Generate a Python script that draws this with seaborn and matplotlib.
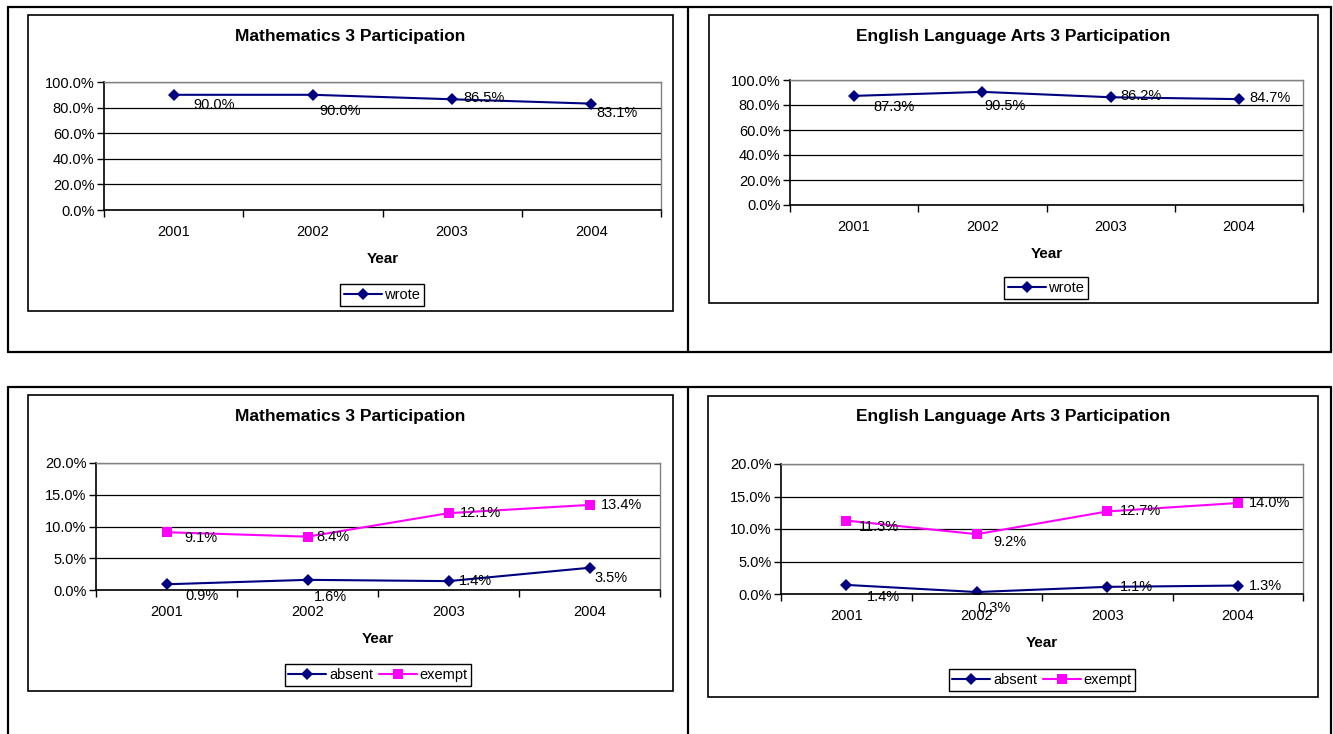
import matplotlib
matplotlib.use("Agg")
import matplotlib.pyplot as plt
import seaborn as sns
import pandas as pd
from matplotlib.lines import Line2D
from matplotlib.patches import Rectangle
from matplotlib.ticker import FuncFormatter, FixedLocator

# data
years = [2001, 2002, 2003, 2004]
math_wrote = [0.900, 0.900, 0.865, 0.831]
ela_wrote = [0.873, 0.905, 0.862, 0.847]
math_absent = [0.009, 0.016, 0.014, 0.035]
math_exempt = [0.091, 0.084, 0.121, 0.134]
ela_absent = [0.014, 0.003, 0.011, 0.013]
ela_exempt = [0.113, 0.092, 0.127, 0.140]

title_math = "Mathematics 3 Participation"
title_ela = "English Language Arts 3 Participation"

sns.set_theme(style="white")
plt.rcParams["font.family"] = ["Liberation Sans", "DejaVu Sans"]
plt.rcParams["text.color"] = "black"
plt.rcParams["axes.labelcolor"] = "black"
plt.rcParams["xtick.color"] = "black"
plt.rcParams["ytick.color"] = "black"

W, H = 1333, 734
fig = plt.figure(figsize=(W / 100, H / 100), dpi=100)
fig.patch.set_facecolor("white")

colors = {"wrote": "#000080", "absent": "#000080", "exempt": "#FF00FF"}
markers = {"wrote": "D", "absent": "D", "exempt": "s"}
msize = {"wrote": 6, "absent": 6, "exempt": 7.5}


def fx(x):
    return x / W


def fy(y):
    return 1 - y / H


def add_line(x0, y0, x1, y1, lw=1.6):
    fig.add_artist(Line2D([fx(x0), fx(x1)], [fy(y0), fy(y1)], color="black", lw=lw,
                          transform=fig.transFigure))


# table borders
add_line(8, 7, 1331, 7)
add_line(8, 352, 1331, 352)
add_line(8, 7, 8, 352)
add_line(1331, 7, 1331, 352)
add_line(688, 7, 688, 352)
add_line(8, 387, 1331, 387)
add_line(8, 387, 8, 734)
add_line(1331, 387, 1331, 734)
add_line(688, 387, 688, 734)

panels = [
    dict(title=title_math, series={"wrote": math_wrote}, ymax=1.0, ystep=0.2,
         box=(28, 15, 673, 311), plot=(104, 82, 661, 210), title_y=36, legend=(382, 295),
         offs={"wrote": [(20, 10), (6, 16), (11, -1), (5, 9)]}),
    dict(title=title_ela, series={"wrote": ela_wrote}, ymax=1.0, ystep=0.2,
         box=(709, 15, 1318, 303), plot=(790, 80, 1303, 205), title_y=36, legend=(1046, 288),
         offs={"wrote": [(19, 11), (2, 14), (10, -1), (10, -1)]}),
    dict(title=title_math, series={"absent": math_absent, "exempt": math_exempt}, ymax=0.2, ystep=0.05,
         box=(28, 395, 673, 691), plot=(96, 463, 660, 590), title_y=417, legend=(378, 675),
         offs={"absent": [(19, 12), (6, 17), (10, 0), (5, 10)],
               "exempt": [(18, 6), (9, 0), (11, 0), (11, 0)]}),
    dict(title=title_ela, series={"absent": ela_absent, "exempt": ela_exempt}, ymax=0.2, ystep=0.05,
         box=(708, 396, 1318, 697), plot=(781, 464, 1303, 594), title_y=417, legend=(1042, 680),
         offs={"absent": [(21, 12), (1, 16), (13, 0), (11, 0)],
               "exempt": [(13, 6), (17, 8), (13, 0), (11, 0)]}),
]

pct = FuncFormatter(lambda v, p: f"{v * 100:.1f}%")

for p in panels:
    bx0, by0, bx1, by1 = p["box"]
    fig.add_artist(Rectangle((fx(bx0), fy(by1)), fx(bx1 - bx0), (by1 - by0) / H, fill=False,
                             edgecolor="black", lw=1.2, transform=fig.transFigure))
    fig.text(fx((bx0 + bx1) / 2), fy(p["title_y"]), p["title"], ha="center", va="center",
             fontsize=12.5, fontweight="bold", color="black")

    x0, y0, x1, y1 = p["plot"]
    ax = fig.add_axes([fx(x0), fy(y1), fx(x1 - x0), (y1 - y0) / H])

    rows = []
    for name, vals in p["series"].items():
        for yr, v in zip(years, vals):
            rows.append({"Year": yr, "value": v, "series": name})
    df = pd.DataFrame(rows)
    names = list(p["series"].keys())

    sns.lineplot(data=df, x="Year", y="value", hue="series", style="series", ax=ax,
                 palette={n: colors[n] for n in names}, markers={n: markers[n] for n in names},
                 dashes=False, lw=1.5, markeredgewidth=0, legend=True)
    for line, n in zip(ax.lines, names):
        line.set_markersize(msize[n])

    for n, vals in p["series"].items():
        for yr, v, (dx, dy) in zip(years, vals, p["offs"][n]):
            ax.annotate(f"{v * 100:.1f}%", (yr, v), xytext=(dx, -dy), textcoords="offset pixels",
                        ha="left", va="center", fontsize=10.5, color="black")

    ax.set_xlim(2000.5, 2004.5)
    ax.set_ylim(0, p["ymax"])
    nt = int(round(p["ymax"] / p["ystep"]))
    ax.yaxis.set_major_locator(FixedLocator([i * p["ystep"] for i in range(nt + 1)]))
    ax.yaxis.set_major_formatter(pct)
    ax.xaxis.set_major_locator(FixedLocator(years))
    ax.xaxis.set_minor_locator(FixedLocator([y - 0.5 for y in years] + [years[-1] + 0.5]))
    ax.tick_params(axis="x", which="major", length=0, pad=11, labelsize=10.5, colors="black")
    ax.tick_params(axis="x", which="minor", length=5, width=1, direction="out", color="black", bottom=True)
    ax.tick_params(axis="y", length=5, width=1, direction="out", left=True, labelsize=10.5,
                   colors="black", pad=2)
    ax.yaxis.grid(True, color="black", lw=0.9)
    ax.set_axisbelow(True)
    for s in ["top", "right"]:
        ax.spines[s].set_color("#808080")
        ax.spines[s].set_linewidth(1)
    for s in ["left", "bottom"]:
        ax.spines[s].set_color("black")
        ax.spines[s].set_linewidth(1.2)
    ax.set_ylabel("")
    ax.set_xlabel("Year", fontsize=11, fontweight="bold", labelpad=9)

    handles, labels = ax.get_legend_handles_labels()
    ax.get_legend().remove()
    lx, ly = p["legend"]
    leg = ax.legend(handles, labels, loc="center", bbox_to_anchor=(fx(lx), fy(ly)),
                    bbox_transform=fig.transFigure, ncol=len(names), frameon=True, fancybox=False,
                    edgecolor="black", framealpha=1, fontsize=10.5, handlelength=2.6,
                    handletextpad=0.2, columnspacing=0.4, borderpad=0.25, borderaxespad=0)
    leg.get_frame().set_linewidth(1)
    for h, n in zip(leg.legend_handles, labels):
        h.set_markersize(7 if n == "exempt" else 6.5)
        h.set_linewidth(1.5)

fig.savefig("out.png", dpi=100)
